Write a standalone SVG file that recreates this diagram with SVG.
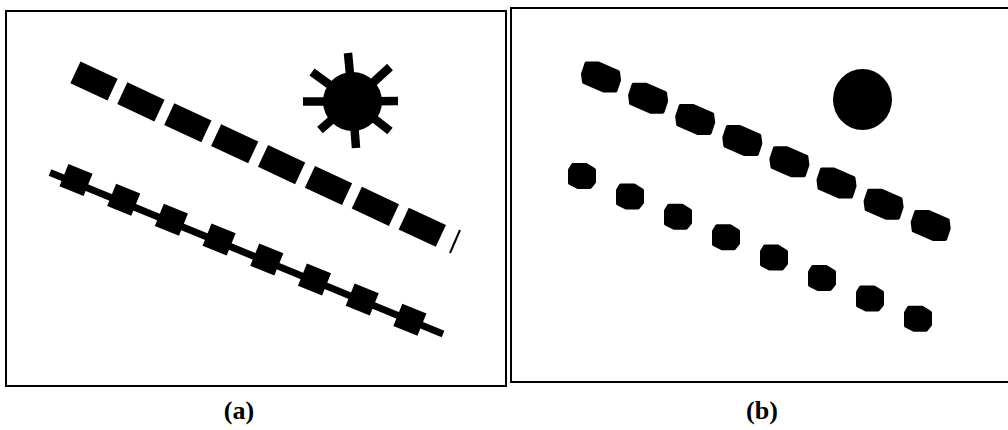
<svg xmlns="http://www.w3.org/2000/svg" xmlns:xlink="http://www.w3.org/1999/xlink" width="1008" height="430" viewBox="0 0 1008 430">
  <style>
    .frame { fill: none; stroke: #000; stroke-width: 2; }
    .ink { fill: #000; }
    .ray { stroke: #000; stroke-width: 8.5; stroke-linecap: butt; }
    .rod { stroke: #000; stroke-width: 7; stroke-linecap: butt; }
    .blob { fill: #000; stroke: #000; stroke-width: 4; stroke-linejoin: round; }
    .label { font-family: "Liberation Serif", "Times New Roman", serif; font-size: 26px; font-weight: bold; fill: #000; text-anchor: middle; }
  </style>
  <defs>
    <rect id="bar" x="-20.5" y="-12" width="41" height="24"/>
    <rect id="sq" x="-13" y="-12" width="26" height="24"/>
    <path id="blobA" d="M-14.5,-13.5 L-2.5,-13.5 L17,-5 L18,3 L14.5,13.5 L2.5,13.5 L-17,5 L-18,-3 Z"/>
    <path id="blobB" d="M-9,-11 L4,-11 L12,-6 L12,6 L8,11 L-4,11 L-12,7 L-12,-6 Z"/>
  </defs>
  <rect width="1008" height="430" fill="#fff"/>

  <g id="panel-a">
    <rect class="frame" x="6" y="11" width="500" height="375"/>
    <g id="a-top-row" class="ink">
      <use xlink:href="#bar" transform="translate(94,81) rotate(25)"/>
      <use xlink:href="#bar" transform="translate(140.9,101.9) rotate(25)"/>
      <use xlink:href="#bar" transform="translate(187.8,122.8) rotate(25)"/>
      <use xlink:href="#bar" transform="translate(234.7,143.7) rotate(25)"/>
      <use xlink:href="#bar" transform="translate(281.6,164.6) rotate(25)"/>
      <use xlink:href="#bar" transform="translate(328.5,185.5) rotate(25)"/>
      <use xlink:href="#bar" transform="translate(375.4,206.4) rotate(25)"/>
      <use xlink:href="#bar" transform="translate(422.3,227.3) rotate(25)"/>
      <line x1="460" y1="230" x2="450" y2="253" stroke="#000" stroke-width="2"/>
    </g>
    <g id="a-bottom-row" class="ink">
      <line class="rod" x1="50" y1="172.5" x2="443" y2="334"/>
      <use xlink:href="#sq" transform="translate(76,180) rotate(22)"/>
      <use xlink:href="#sq" transform="translate(123.7,199.8) rotate(22)"/>
      <use xlink:href="#sq" transform="translate(171.4,219.7) rotate(22)"/>
      <use xlink:href="#sq" transform="translate(219.1,239.6) rotate(22)"/>
      <use xlink:href="#sq" transform="translate(266.8,259.6) rotate(22)"/>
      <use xlink:href="#sq" transform="translate(314.5,279.6) rotate(22)"/>
      <use xlink:href="#sq" transform="translate(362.2,299.6) rotate(22)"/>
      <use xlink:href="#sq" transform="translate(409.9,319.7) rotate(22)"/>
    </g>
    <g id="a-sun">
      <line class="ray" x1="352.5" y1="101.5" x2="348" y2="53"/>
      <line class="ray" x1="352.5" y1="101.5" x2="390" y2="67"/>
      <line class="ray" x1="352.5" y1="101.5" x2="398" y2="101"/>
      <line class="ray" x1="352.5" y1="101.5" x2="390" y2="131"/>
      <line class="ray" x1="352.5" y1="101.5" x2="356" y2="148"/>
      <line class="ray" x1="352.5" y1="101.5" x2="320" y2="130"/>
      <line class="ray" x1="352.5" y1="101.5" x2="303" y2="101.5"/>
      <line class="ray" x1="352.5" y1="101.5" x2="312" y2="72"/>
      <circle class="ink" cx="352.5" cy="101.5" r="29.5"/>
    </g>
  </g>

  <g id="panel-b">
    <rect class="frame" x="511" y="8" width="510" height="374"/>
    <g id="b-top-row">
      <use class="blob" xlink:href="#blobA" transform="translate(601,77)"/>
      <use class="blob" xlink:href="#blobA" transform="translate(648.1,98.2)"/>
      <use class="blob" xlink:href="#blobA" transform="translate(695.2,119.4)"/>
      <use class="blob" xlink:href="#blobA" transform="translate(742.3,140.6)"/>
      <use class="blob" xlink:href="#blobA" transform="translate(789.4,161.8)"/>
      <use class="blob" xlink:href="#blobA" transform="translate(836.5,183)"/>
      <use class="blob" xlink:href="#blobA" transform="translate(883.6,204.2)"/>
      <use class="blob" xlink:href="#blobA" transform="translate(930.7,225.4)"/>
    </g>
    <g id="b-bottom-row">
      <use class="blob" xlink:href="#blobB" transform="translate(582,176)"/>
      <use class="blob" xlink:href="#blobB" transform="translate(630,196.4)"/>
      <use class="blob" xlink:href="#blobB" transform="translate(678,216.8)"/>
      <use class="blob" xlink:href="#blobB" transform="translate(726,237.2)"/>
      <use class="blob" xlink:href="#blobB" transform="translate(774,257.6)"/>
      <use class="blob" xlink:href="#blobB" transform="translate(822,278)"/>
      <use class="blob" xlink:href="#blobB" transform="translate(870,298.4)"/>
      <use class="blob" xlink:href="#blobB" transform="translate(918,318.8)"/>
    </g>
    <g id="b-disc">
      <ellipse class="ink" cx="862.5" cy="99.5" rx="29.5" ry="30.5"/>
    </g>
  </g>

  <g id="labels">
    <text class="label" x="239" y="419">(a)</text>
    <text class="label" x="762" y="419">(b)</text>
  </g>
</svg>
